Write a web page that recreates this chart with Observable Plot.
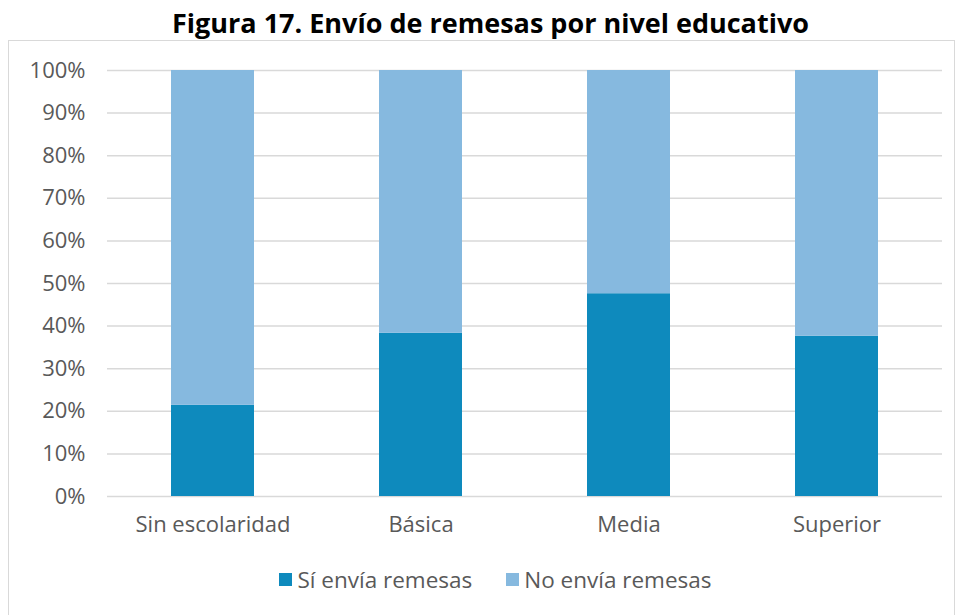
<!DOCTYPE html>
<html>
<head>
<meta charset="utf-8">
<script src="https://cdn.jsdelivr.net/npm/d3@7"></script>
<script src="https://cdn.jsdelivr.net/npm/@observablehq/plot@0.6"></script>
<style>
  html, body { margin: 0; padding: 0; background: #fff; }
  body { width: 963px; height: 615px; overflow: hidden; position: relative; font-family: "Open Sans", sans-serif; }
  #title { position: absolute; left: 9px; top: 0; width: 963px; height: 41px; text-align: center;
    font-family: "Open Sans", sans-serif; font-weight: 700; font-size: 27px; line-height: 46px; color: #000; letter-spacing: 0px; }
  #box { position: absolute; left: 8px; top: 40px; width: 945px; height: 580px; border: 1.5px solid #D9D9D9; }
  #chart { position: absolute; left: 0; top: 0; }
  #legend { position: absolute; left: 14px; top: 521px; width: 945px; text-align: center; font-size: 22.5px; color: #595959; }
  .item { display: inline-flex; align-items: center; margin: 0 17px; }
  .sw { display: inline-block; width: 13px; height: 13px; margin-right: 5px; }
</style>
</head>
<body>
<div id="title">Figura 17. Envío de remesas por nivel educativo</div>
<div id="box">
  <div id="chart"></div>
  <div id="legend"></div>
</div>
<script>
const categories = ["Sin escolaridad", "Básica", "Media", "Superior"];
const siEnvia = [21.4, 38.3, 47.6, 37.6];
const noEnvia = [78.6, 61.7, 52.4, 62.4];
const seriesNames = ["Sí envía remesas", "No envía remesas"];
const seriesColors = ["#0E8ABD", "#86B9DF"];
const yTicks = [0, 10, 20, 30, 40, 50, 60, 70, 80, 90, 100];

const rows = [];
categories.forEach((c, i) => {
  rows.push({cat: c, serie: seriesNames[0], value: siEnvia[i]});
  rows.push({cat: c, serie: seriesNames[1], value: noEnvia[i]});
});

const plot = Plot.plot({
  width: 945,
  height: 510,
  marginLeft: 98,
  marginRight: 12,
  marginTop: 29,
  marginBottom: 55,
  style: {fontFamily: "'Open Sans', sans-serif", fontSize: "22px", color: "#595959", background: "transparent"},
  x: {domain: categories, paddingInner: 0.6, paddingOuter: 0.3, label: null},
  y: {domain: [0, 100], label: null},
  color: {domain: seriesNames, range: seriesColors},
  marks: [
    Plot.ruleY(yTicks, {stroke: "#D9D9D9", strokeWidth: 1.5}),
    Plot.barY(rows, Plot.stackY({x: "cat", y: "value", fill: "serie", order: seriesNames})),
    Plot.axisY(yTicks, {tickSize: 0, tickPadding: 22, tickFormat: d => d + "%", fontSize: 22, fill: "#595959", label: null}),
    Plot.axisX({tickSize: 0, tickPadding: 20, fontSize: 22, fill: "#595959", label: null})
  ]
});
document.getElementById("chart").appendChild(plot);

const legend = document.getElementById("legend");
seriesNames.forEach((s, i) => {
  const it = document.createElement("span");
  it.className = "item";
  const sw = document.createElement("span");
  sw.className = "sw";
  sw.style.background = seriesColors[i];
  it.appendChild(sw);
  it.appendChild(document.createTextNode(s));
  legend.appendChild(it);
});
</script>
</body>
</html>
